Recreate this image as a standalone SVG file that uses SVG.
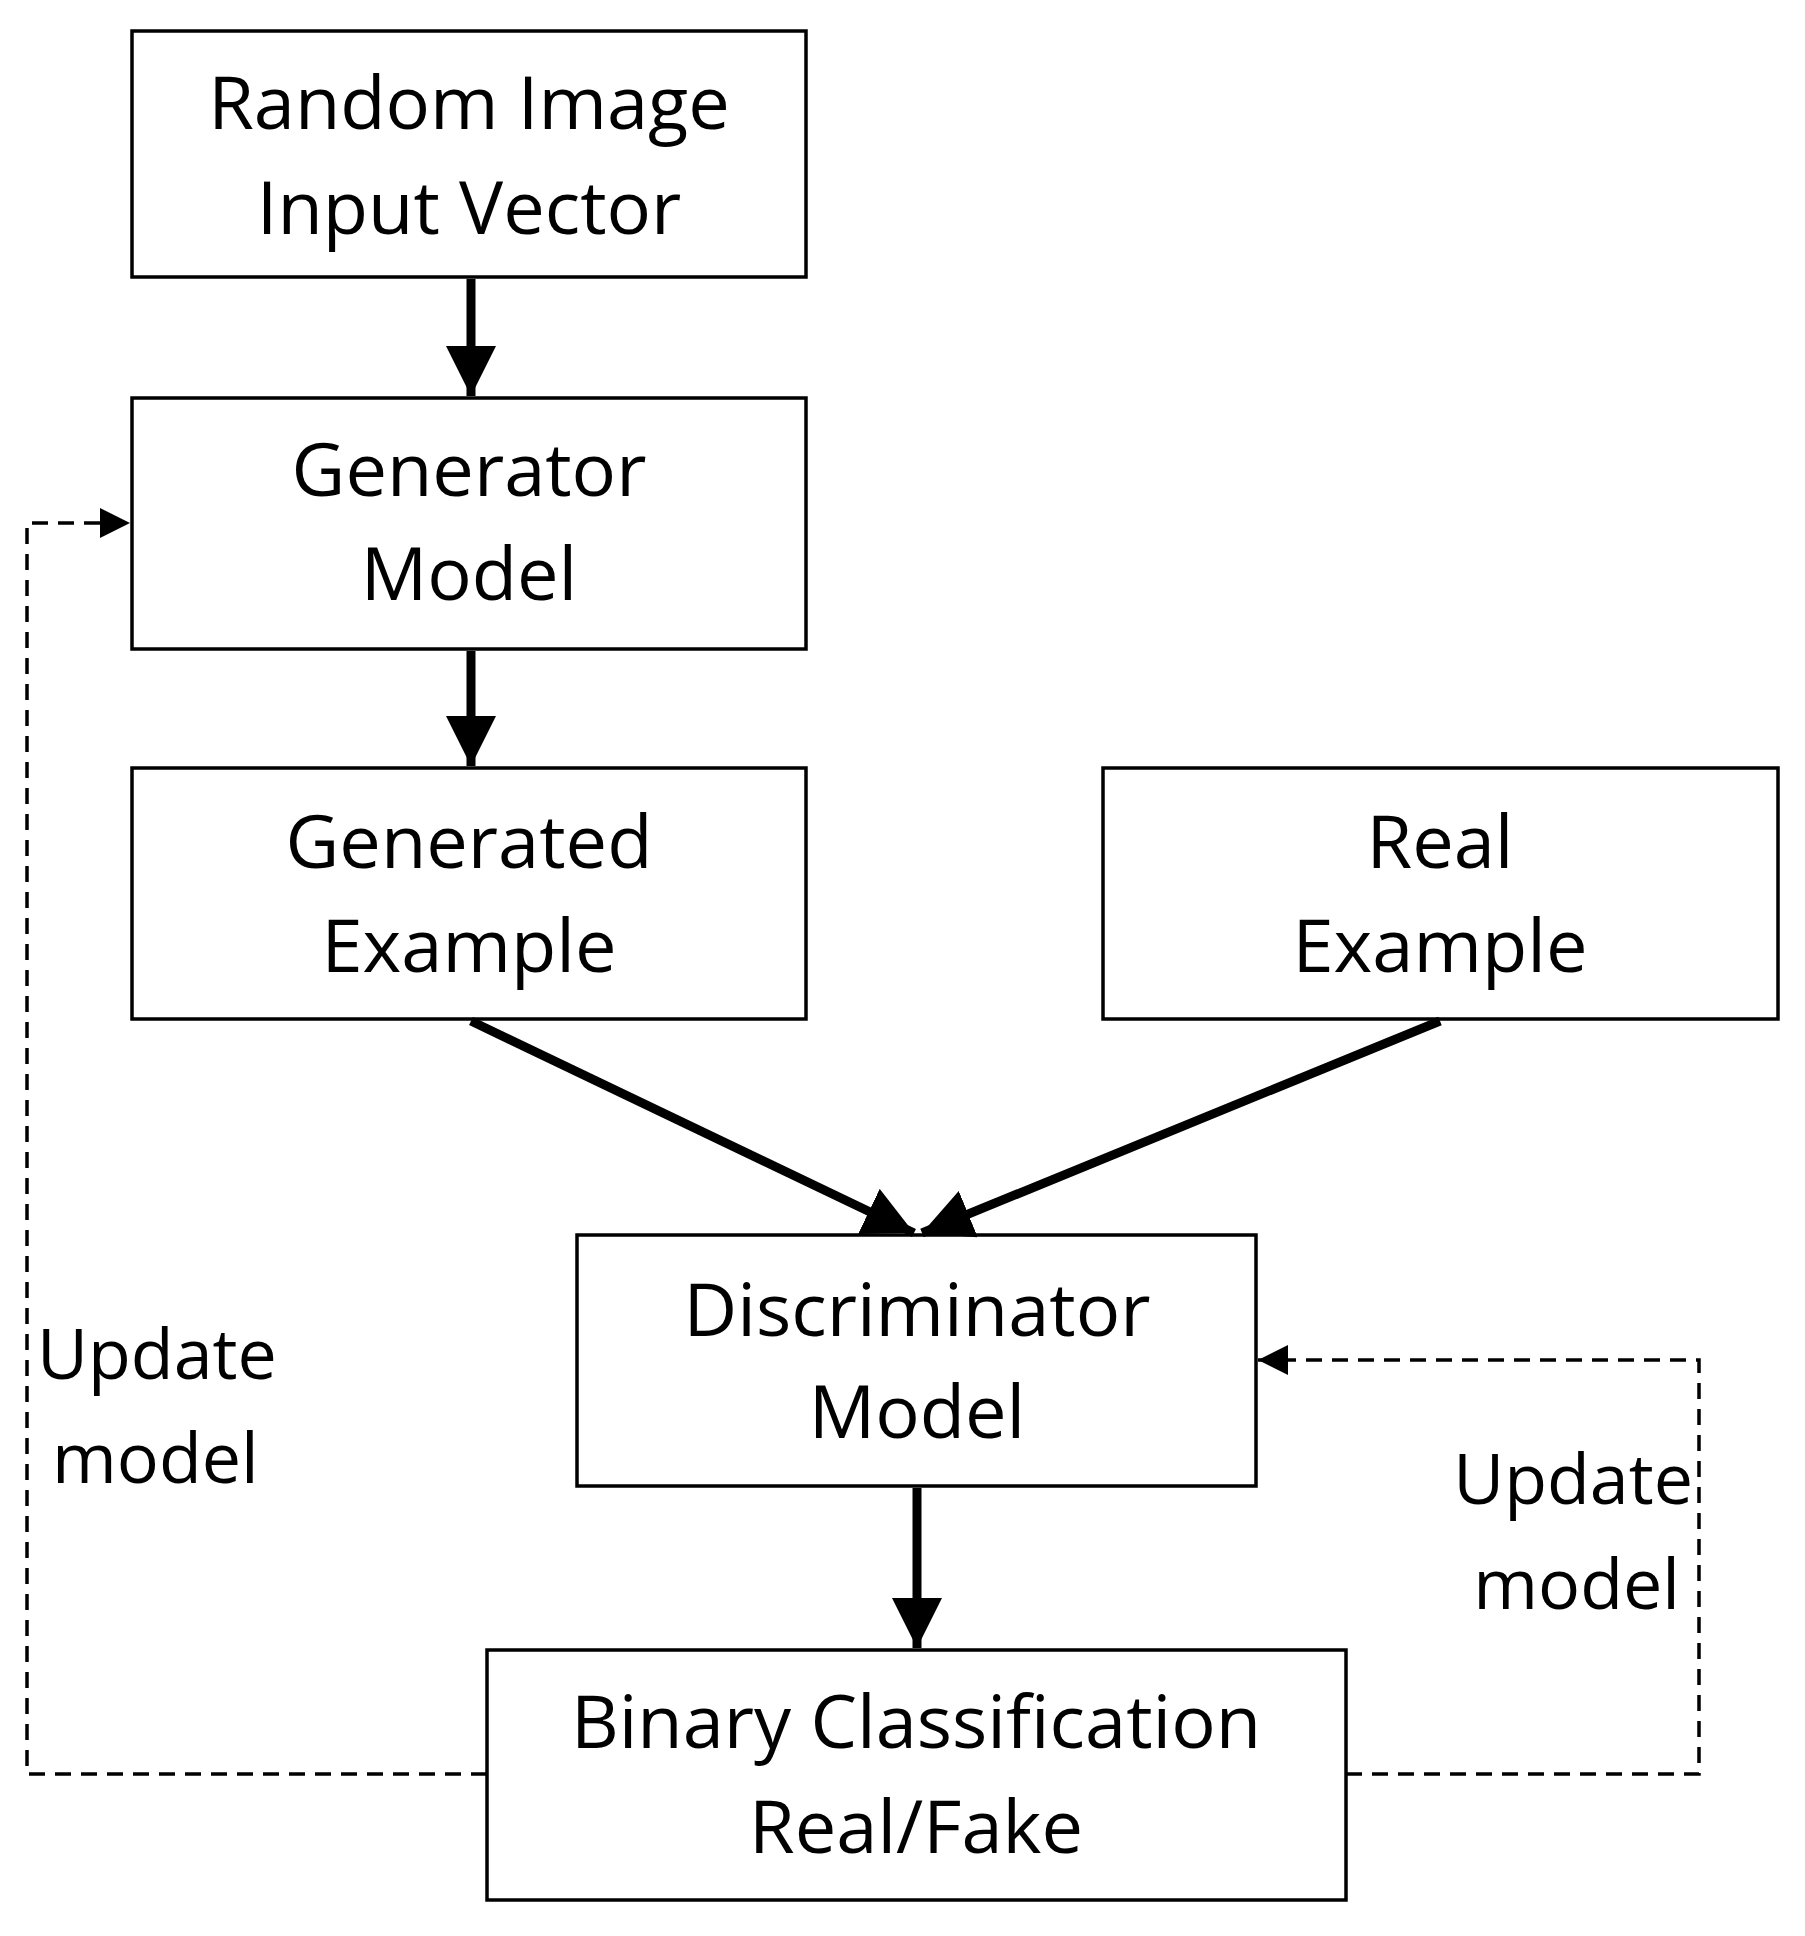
<svg xmlns="http://www.w3.org/2000/svg" width="1805" height="1936" viewBox="0 0 1805 1936">
<style>
.box{fill:#fff;stroke:#000;stroke-width:3.5}
.t{font-family:"Open Sans","Liberation Sans",sans-serif;font-size:74px;text-anchor:middle;fill:#000}
.l{font-family:"Open Sans","Liberation Sans",sans-serif;font-size:70px;fill:#000}
.a{stroke:#000;stroke-width:9;fill:none}
.d{stroke:#000;stroke-width:3.5;fill:none;stroke-dasharray:16 10}
</style>
<defs>
<marker id="ah" markerUnits="userSpaceOnUse" markerWidth="50" markerHeight="50" refX="40" refY="20" orient="auto" viewBox="0 0 40 40"><path d="M0,0 L40,20 L0,40 Z" fill="#000"/></marker>
<marker id="ahs" markerUnits="userSpaceOnUse" markerWidth="30" markerHeight="30" refX="28" refY="14" orient="auto" viewBox="0 0 28 28"><path d="M0,0 L28,14 L0,28 Z" fill="#000"/></marker>
</defs>
<g id="n1"><rect class="box" x="132" y="31" width="674" height="246"/><text class="t" x="469" y="129">Random Image</text><text class="t" x="469" y="234">Input Vector</text></g>
<g id="n2"><rect class="box" x="132" y="398" width="674" height="251"/><text class="t" x="469" y="496">Generator</text><text class="t" x="469" y="600">Model</text></g>
<g id="n3"><rect class="box" x="132" y="768" width="674" height="251"/><text class="t" x="469" y="868">Generated</text><text class="t" x="469" y="972">Example</text></g>
<g id="n4"><rect class="box" x="1103" y="768" width="675" height="251"/><text class="t" x="1440" y="868">Real</text><text class="t" x="1440" y="972">Example</text></g>
<g id="n5"><rect class="box" x="577" y="1235" width="679" height="251"/><text class="t" x="917" y="1336">Discriminator</text><text class="t" x="917" y="1438">Model</text></g>
<g id="n6"><rect class="box" x="487" y="1650" width="859" height="250"/><text class="t" x="916" y="1748">Binary Classification</text><text class="t" x="916" y="1853">Real/Fake</text></g>
<g id="edges">
<line class="a" x1="471" y1="279" x2="471" y2="396" marker-end="url(#ah)"/>
<line class="a" x1="471" y1="651" x2="471" y2="766" marker-end="url(#ah)"/>
<line class="a" x1="471" y1="1021" x2="914" y2="1233" marker-end="url(#ah)"/>
<line class="a" x1="1440" y1="1021" x2="922" y2="1233" marker-end="url(#ah)"/>
<line class="a" x1="917" y1="1488" x2="917" y2="1648" marker-end="url(#ah)"/>
<polyline class="d" points="487,1774 27,1774 27,523 130,523" marker-end="url(#ahs)"/>
<polyline class="d" points="1346,1774 1699,1774 1699,1360 1258,1360" marker-end="url(#ahs)"/>
<text class="l" x="37" y="1379">Update</text><text class="l" x="52" y="1483">model</text>
<text class="l" x="1693" y="1504" text-anchor="end">Update</text><text class="l" x="1680" y="1609" text-anchor="end">model</text>
</g>
</svg>
